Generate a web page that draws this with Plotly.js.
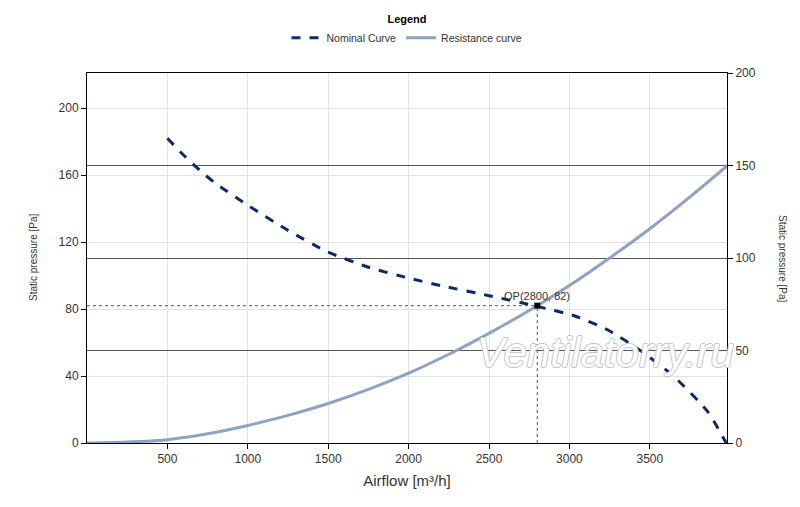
<!DOCTYPE html>
<html>
<head>
<meta charset="utf-8">
<script src="https://cdn.plot.ly/plotly-3.0.1.min.js"></script>
<style>html,body{margin:0;padding:0;background:#fff;}#chart{width:800px;height:507px;}</style>
</head>
<body>
<div id="chart"></div>
<script>
// Nominal (fan) curve, airflow [m³/h] vs static pressure [Pa]
var nominalFlow = [500, 600, 700, 800, 1000, 1250, 1500, 1750, 2000, 2200, 2500, 2800, 3030, 3240, 3450, 3650, 3860, 3975];
var nominalPressure = [182, 172, 163, 155, 142, 127, 114, 105, 98.5, 94, 88, 81.6, 76, 67.5, 54.6, 39.7, 18.7, 0];

// Resistance (system) curve
var resistanceFlow = [0, 250, 500, 750, 1000, 1250, 1500, 1750, 2000, 2250, 2500, 2800, 3000, 3250, 3500, 3750, 3980];
var resistancePressure = [0, 0.6, 2, 5.5, 10.5, 16.5, 23.6, 32, 41.7, 53, 65.5, 82, 94, 110.5, 128, 147, 165.5];

// Operating point
var opFlow = [2800];
var opPressure = [82];

var xTicks = [500, 1000, 1500, 2000, 2500, 3000, 3500];
var yTicks = [0, 40, 80, 120, 160, 200];
var y2Ticks = [0, 50, 100, 150, 200];

var font = "Arial, 'Liberation Sans', sans-serif";

var traces = [
  {
    x: nominalFlow, y: nominalPressure, type: 'scatter', mode: 'lines',
    name: 'Nominal Curve', line: {color: '#0b2a6a', width: 3, dash: 'dash', shape: 'spline', smoothing: 0.6}
  },
  {
    x: resistanceFlow, y: resistancePressure, type: 'scatter', mode: 'lines',
    name: 'Resistance curve', line: {color: '#8ea3c3', width: 3, shape: 'spline', smoothing: 0.6}
  },
  {
    x: opFlow, y: opPressure, type: 'scatter', mode: 'markers', showlegend: false,
    marker: {symbol: 'square', size: 6, color: '#000'}, hoverinfo: 'skip'
  },
  {
    // empty trace so the secondary (right) axis is drawn
    x: [], y: [], type: 'scatter', mode: 'lines', yaxis: 'y2', showlegend: false, hoverinfo: 'skip'
  }
];

var layout = {
  width: 800, height: 507,
  margin: {l: 87, r: 73, t: 73, b: 64},
  paper_bgcolor: '#fff', plot_bgcolor: '#fff',
  font: {family: font, size: 12, color: '#333'},
  showlegend: true,
  legend: {
    orientation: 'h', x: 0.5, xanchor: 'center', xref: 'paper',
    yref: 'container', y: 1 - 9 / 507, yanchor: 'top',
    font: {family: font, size: 10.5, color: '#333'},
    title: {text: '<b>Legend</b>', side: 'top center', font: {family: font, size: 11, color: '#000'}},
    itemwidth: 30, tracegroupgap: 0
  },
  xaxis: {
    range: [0, 3980], tickvals: xTicks, ticktext: xTicks.map(String),
    showgrid: true, gridcolor: '#e2e2e2', gridwidth: 1,
    showline: true, linecolor: '#000', linewidth: 1, mirror: true,
    ticks: 'outside', ticklen: 5, tickcolor: '#000',
    tickfont: {family: font, size: 12, color: '#333'},
    zeroline: false,
    title: {text: 'Airflow [m³/h]', font: {family: font, size: 15, color: '#333'}, standoff: 10}
  },
  yaxis: {
    range: [0, 221], tickvals: yTicks,
    showgrid: true, gridcolor: '#e2e2e2', gridwidth: 1,
    showline: true, linecolor: '#000', linewidth: 1,
    ticks: 'outside', ticklen: 5, tickcolor: '#000',
    tickfont: {family: font, size: 12, color: '#333'},
    zeroline: false
  },
  yaxis2: {
    overlaying: 'y', side: 'right', range: [0, 200], tickvals: y2Ticks,
    showgrid: true, gridcolor: '#555', gridwidth: 1,
    showline: true, linecolor: '#000', linewidth: 1,
    ticks: 'outside', ticklen: 5, tickcolor: '#000',
    tickfont: {family: font, size: 12, color: '#333'},
    zeroline: false
  },
  shapes: [
    {type: 'line', xref: 'x', yref: 'y', x0: 0, x1: opFlow[0], y0: opPressure[0], y1: opPressure[0],
     line: {color: '#555', width: 1, dash: 'dot'}},
    {type: 'line', xref: 'x', yref: 'y', x0: opFlow[0], x1: opFlow[0], y0: 0, y1: opPressure[0],
     line: {color: '#555', width: 1, dash: 'dot'}}
  ],
  annotations: [
    {x: opFlow[0], y: opPressure[0], xref: 'x', yref: 'y', text: 'OP(' + opFlow[0] + ', ' + opPressure[0] + ')',
     showarrow: false, yanchor: 'bottom', yshift: 2, font: {family: font, size: 11, color: '#333'}},
    {x: -54 / 640, y: 0.5, xref: 'paper', yref: 'paper', text: 'Static pressure [Pa]', textangle: -90,
     showarrow: false, xanchor: 'center', yanchor: 'middle', font: {family: font, size: 10, color: '#333'}},
    {x: 1 + 56 / 640, y: 0.5, xref: 'paper', yref: 'paper', text: 'Static pressure [Pa]', textangle: 90,
     showarrow: false, xanchor: 'center', yanchor: 'middle', font: {family: font, size: 10, color: '#333'}},
    {x: (605 - 87) / 640, y: (443 - 352) / 370, xref: 'paper', yref: 'paper', text: '<i>Ventilatorry.ru</i>',
     showarrow: false, xanchor: 'center', yanchor: 'middle',
     font: {family: font, size: 42, color: '#ffffff',
            shadow: '1px 0 0 #c4c4c4, -1px 0 0 #c4c4c4, 0 1px 0 #c4c4c4, 0 -1px 0 #c4c4c4'}}
  ]
};

Plotly.newPlot('chart', traces, layout, {displayModeBar: false, staticPlot: true});
</script>
</body>
</html>
